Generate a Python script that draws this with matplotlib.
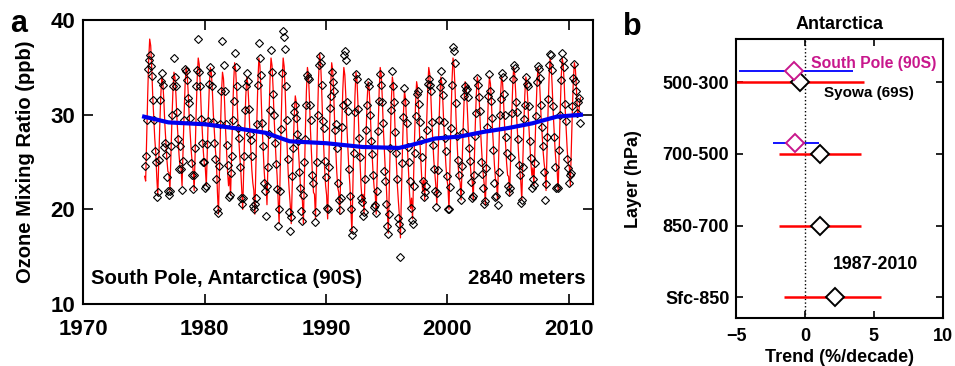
import numpy as np
import matplotlib
matplotlib.use('Agg')
import matplotlib.pyplot as plt

plt.rcParams['font.family'] = ['Liberation Sans', 'DejaVu Sans']
plt.rcParams['font.weight'] = 'bold'

# ---- panel a: South Pole monthly surface ozone (ppb), Jan..Dec per year ----
years = list(range(1975, 2011))

# seasonal fit (red line)
fit_monthly = [
    [23.5, 23.0, 27.5, 32.0, 35.8, 38.0, 37.3, 35.0, 32.0, 29.8, 27.5, 26.0],
    [23.4, 21.5, 25.3, 29.0, 32.1, 34.0, 33.4, 31.5, 29.0, 27.1, 25.3, 24.0],
    [23.9, 22.0, 25.8, 29.5, 32.6, 34.5, 33.9, 32.0, 29.5, 27.6, 25.8, 24.5],
    [24.4, 22.5, 26.3, 30.0, 33.1, 35.0, 34.4, 32.5, 30.0, 28.1, 26.3, 25.0],
    [24.1, 22.0, 26.2, 30.4, 33.9, 36.0, 35.3, 33.2, 30.4, 28.3, 26.2, 24.8],
    [24.4, 22.5, 26.3, 30.0, 33.1, 35.0, 34.4, 32.5, 30.0, 28.1, 26.3, 25.0],
    [21.8, 19.5, 24.0, 28.5, 32.3, 34.5, 33.8, 31.5, 28.5, 26.3, 24.0, 22.5],
    [23.6, 21.5, 25.7, 29.9, 33.4, 35.5, 34.8, 32.7, 29.9, 27.8, 25.7, 24.3],
    [22.1, 20.0, 24.2, 28.4, 31.9, 34.0, 33.3, 31.2, 28.4, 26.3, 24.2, 22.8],
    [22.0, 19.5, 24.5, 29.4, 33.5, 36.0, 35.2, 32.7, 29.4, 26.9, 24.5, 22.8],
    [22.8, 20.5, 25.2, 29.8, 33.7, 36.0, 35.2, 32.9, 29.8, 27.5, 25.2, 23.6],
    [21.1, 18.5, 23.8, 29.0, 33.4, 36.0, 35.1, 32.5, 29.0, 26.4, 23.8, 22.0],
    [20.5, 18.5, 22.6, 26.6, 30.0, 32.0, 31.3, 29.3, 26.6, 24.6, 22.6, 21.2],
    [21.0, 18.5, 23.5, 28.4, 32.5, 35.0, 34.2, 31.7, 28.4, 25.9, 23.5, 21.8],
    [21.6, 19.0, 24.3, 29.5, 33.9, 36.5, 35.6, 33.0, 29.5, 26.9, 24.3, 22.5],
    [21.5, 19.0, 24.0, 28.9, 33.0, 35.5, 34.7, 32.2, 28.9, 26.4, 24.0, 22.3],
    [21.8, 19.5, 24.2, 28.8, 32.7, 35.0, 34.2, 31.9, 28.8, 26.5, 24.2, 22.6],
    [20.1, 17.5, 22.6, 27.7, 32.0, 34.5, 33.7, 31.1, 27.7, 25.2, 22.6, 20.9],
    [21.6, 19.5, 23.7, 27.9, 31.4, 33.5, 32.8, 30.7, 27.9, 25.8, 23.7, 22.3],
    [21.8, 19.5, 24.2, 28.8, 32.7, 35.0, 34.2, 31.9, 28.8, 26.5, 24.2, 22.6],
    [20.0, 17.5, 22.5, 27.4, 31.5, 34.0, 33.2, 30.7, 27.4, 24.9, 22.5, 20.8],
    [19.3, 17.0, 21.7, 26.3, 30.2, 32.5, 31.7, 29.4, 26.3, 24.0, 21.7, 20.1],
    [21.2, 19.0, 23.4, 27.7, 31.3, 33.5, 32.8, 30.6, 27.7, 25.5, 23.4, 21.9],
    [23.1, 21.0, 25.2, 29.4, 32.9, 35.0, 34.3, 32.2, 29.4, 27.3, 25.2, 23.8],
    [22.5, 20.5, 24.6, 28.6, 32.0, 34.0, 33.3, 31.3, 28.6, 26.6, 24.6, 23.2],
    [22.4, 20.0, 24.8, 29.6, 33.6, 36.0, 35.2, 32.8, 29.6, 27.2, 24.8, 23.2],
    [22.9, 21.0, 24.8, 28.5, 31.6, 33.5, 32.9, 31.0, 28.5, 26.6, 24.8, 23.5],
    [23.0, 21.0, 24.9, 28.8, 32.1, 34.0, 33.4, 31.4, 28.8, 26.9, 24.9, 23.6],
    [22.5, 20.5, 24.6, 28.6, 32.0, 34.0, 33.3, 31.3, 28.6, 26.6, 24.6, 23.2],
    [23.0, 21.0, 24.9, 28.8, 32.1, 34.0, 33.4, 31.4, 28.8, 26.9, 24.9, 23.6],
    [23.5, 21.5, 25.6, 29.6, 33.0, 35.0, 34.3, 32.3, 29.6, 27.6, 25.6, 24.2],
    [23.0, 21.0, 24.9, 28.8, 32.1, 34.0, 33.4, 31.4, 28.8, 26.9, 24.9, 23.6],
    [24.4, 22.5, 26.3, 30.0, 33.1, 35.0, 34.4, 32.5, 30.0, 28.1, 26.3, 25.0],
    [24.1, 22.0, 26.2, 30.4, 33.9, 36.0, 35.3, 33.2, 30.4, 28.3, 26.2, 24.8],
    [24.1, 22.0, 26.2, 30.4, 33.9, 36.0, 35.3, 33.2, 30.4, 28.3, 26.2, 24.8],
    [24.5, 22.5, 26.4, 30.3, 33.6, 35.5, 34.9, 32.9, 30.3, 29.8, 31.0, 31.8],
]

# monthly means (diamonds)
obs_monthly = [
    [24.6, 25.7, 29.4, 34.8, 35.8, 36.3, 35.2, 34.1, 31.6, 29.4, 26.2, 25.0],
    [21.3, 21.8, 25.2, 31.6, 33.6, 34.4, 33.1, 26.6, 27.0, 25.8, 23.4, 22.0],
    [21.5, 22.0, 26.7, 30.0, 33.0, 36.0, 34.0, 33.0, 30.3, 27.4, 24.3, 26.7],
    [24.3, 22.1, 25.1, 29.5, 34.8, 34.6, 33.7, 31.8, 31.2, 29.7, 24.9, 23.6],
    [22.2, 23.6, 26.5, 33.0, 34.7, 38.0, 34.5, 33.0, 29.6, 27.0, 25.0, 25.0],
    [22.3, 22.5, 26.9, 29.3, 33.3, 35.0, 34.4, 33.0, 29.2, 27.0, 25.3, 23.2],
    [20.1, 19.6, 24.6, 29.0, 32.5, 37.8, 35.3, 32.5, 29.0, 26.8, 24.7, 21.3],
    [21.5, 23.9, 25.7, 29.5, 31.5, 36.5, 35.0, 33.0, 28.6, 27.5, 24.5, 21.2],
    [20.6, 21.2, 25.6, 30.5, 33.0, 34.4, 33.6, 30.6, 28.0, 27.3, 25.6, 20.4],
    [20.1, 20.6, 21.2, 29.0, 33.2, 37.6, 36.0, 34.2, 29.1, 26.7, 22.8, 21.9],
    [19.3, 22.5, 24.5, 28.0, 30.5, 36.8, 34.5, 32.2, 30.0, 27.0, 24.8, 22.2],
    [18.3, 20.0, 22.0, 28.5, 34.4, 38.8, 38.2, 37.0, 33.0, 29.4, 25.3, 19.7],
    [17.7, 19.2, 23.5, 26.5, 30.3, 31.0, 29.7, 28.0, 27.2, 24.0, 22.3, 19.8],
    [18.8, 21.5, 25.0, 27.4, 31.0, 34.2, 33.9, 33.8, 31.0, 29.5, 23.6, 22.8],
    [18.7, 19.7, 25.0, 30.0, 35.3, 36.2, 35.5, 33.2, 29.3, 28.6, 25.1, 23.4],
    [20.2, 20.0, 24.5, 30.7, 32.0, 34.5, 33.5, 32.5, 28.4, 29.0, 26.5, 22.8],
    [21.0, 19.9, 21.2, 28.7, 31.0, 36.3, 36.7, 35.8, 31.3, 30.4, 24.3, 21.4],
    [20.0, 17.3, 17.8, 26.0, 30.3, 34.3, 33.8, 30.6, 27.5, 25.5, 21.2, 20.8],
    [19.3, 19.7, 23.2, 28.4, 31.0, 33.5, 33.0, 30.0, 27.2, 25.9, 23.6, 20.3],
    [20.5, 19.6, 22.0, 28.3, 31.5, 34.3, 33.2, 31.3, 29.1, 24.1, 23.0, 20.6],
    [18.3, 17.4, 19.5, 26.5, 30.5, 34.6, 33.0, 31.4, 28.2, 26.0, 23.2, 19.1],
    [18.5, 15.0, 17.8, 24.9, 29.8, 32.8, 31.3, 29.1, 26.6, 25.0, 23.0, 20.2],
    [18.9, 18.5, 22.5, 26.0, 29.9, 32.2, 32.5, 31.1, 29.2, 27.3, 25.5, 23.0],
    [21.3, 21.8, 22.5, 28.4, 33.3, 33.8, 33.2, 32.5, 29.2, 26.8, 24.3, 21.9],
    [20.3, 21.7, 24.2, 29.4, 32.9, 34.6, 33.6, 32.1, 29.2, 27.6, 26.2, 23.5],
    [20.0, 20.0, 22.4, 28.6, 33.2, 37.2, 36.7, 35.5, 31.2, 27.8, 25.2, 23.6],
    [21.8, 21.0, 24.6, 28.2, 32.0, 33.0, 32.6, 32.7, 31.9, 26.5, 25.1, 22.9],
    [21.2, 21.4, 23.6, 27.8, 30.2, 33.9, 33.1, 31.9, 30.4, 25.0, 23.7, 22.3],
    [20.6, 20.9, 24.4, 28.7, 32.0, 34.3, 32.5, 31.5, 29.7, 26.3, 22.8, 21.3],
    [21.4, 20.5, 24.0, 30.0, 31.7, 34.4, 34.0, 32.2, 30.0, 27.7, 26.0, 22.5],
    [21.8, 22.3, 25.5, 30.2, 33.8, 35.3, 34.9, 31.4, 30.3, 27.4, 24.7, 23.6],
    [20.7, 21.0, 24.5, 29.6, 31.0, 34.0, 33.3, 33.0, 30.9, 27.2, 25.4, 22.3],
    [23.2, 22.6, 24.9, 29.9, 33.5, 35.2, 34.8, 33.9, 31.0, 28.7, 26.7, 24.0],
    [21.0, 22.7, 27.7, 31.7, 35.3, 36.4, 36.3, 34.7, 30.9, 27.7, 24.5, 22.3],
    [22.4, 22.3, 26.3, 30.0, 33.7, 36.5, 35.8, 35.0, 31.1, 29.3, 25.3, 24.4],
    [22.8, 23.6, 23.8, 30.9, 33.9, 35.4, 33.6, 32.5, 30.2, 31.3, 31.8, 29.1],
]

# long-term smooth trend (blue line)
trend_years = [1975, 1977, 1980, 1983, 1985, 1987, 1990, 1993, 1996, 1997, 1999, 2001, 2003, 2005, 2007, 2009, 2011]
trend_vals = [29.8, 29.2, 29.0, 28.5, 28.1, 27.2, 27.0, 26.6, 26.5, 26.8, 27.5, 27.7, 28.2, 28.6, 29.1, 29.8, 30.0]

# ---- panel b: trends (%/decade) by layer ----
layers = ['500-300', '700-500', '850-700', 'Sfc-850']
syowa_trend = [-0.4, 1.1, 1.1, 2.2]
syowa_lo = [-5.3, -1.9, -1.9, -1.5]
syowa_hi = [4.3, 4.1, 4.1, 5.5]
sp_layers = ['500-300', '700-500']
sp_trend = [-0.8, -0.7]
sp_lo = [-4.8, -2.3]
sp_hi = [3.5, 1.0]

MAGENTA = '#c8178c'

fig = plt.figure(figsize=(9.55, 3.66), dpi=100)

# ------------------------- panel a -------------------------
ax = fig.add_axes([0.0874, 0.169, 0.5336, 0.776])
t = np.array([[y + (m + 0.5) / 12 for m in range(12)] for y in years]).ravel()
fit = np.array(fit_monthly).ravel()
obs = np.array(obs_monthly).ravel()

ax.plot(t, fit, color='red', lw=0.9, zorder=2)
ax.plot(t, obs, ls='none', marker='D', ms=4.2, mfc='none', mec='black', mew=0.8, zorder=3)
ax.plot(trend_years, trend_vals, color='#0000ee', lw=3, zorder=4)

ax.set_xlim(1970, 2012)
ax.set_ylim(10, 40)
ax.set_xticks([1970, 1980, 1990, 2000, 2010])
ax.set_yticks([10, 20, 30, 40])
ax.tick_params(direction='in', length=7, width=1.2, top=True, right=True, labelsize=16)
ax.tick_params(axis='x', pad=11)
ax.tick_params(axis='y', pad=6)
for s in ax.spines.values():
    s.set_linewidth(1.5)
ax.set_ylabel('Ozone Mixing Ratio (ppb)', fontsize=14.5, fontweight='bold', labelpad=11)
ax.text(0.015, 0.09, 'South Pole, Antarctica (90S)', transform=ax.transAxes, fontsize=14.7,
        fontweight='bold', va='center', ha='left')
ax.text(0.985, 0.09, '2840 meters', transform=ax.transAxes, fontsize=14.7,
        fontweight='bold', va='center', ha='right')
fig.text(0.019, 0.935, 'a', fontsize=22, fontweight='bold', ha='center', va='center')

# ------------------------- panel b -------------------------
bx = fig.add_axes([0.771, 0.131, 0.216, 0.762])
ypos = {name: 4 - i for i, name in enumerate(layers)}
y_sy = np.array([ypos[n] for n in layers], dtype=float)
y_sp = np.array([ypos[n] for n in sp_layers], dtype=float) + 0.15

bx.axvline(0, color='black', ls=':', lw=1, zorder=1)
bx.hlines(y_sy, syowa_lo, syowa_hi, color='red', lw=1.8, zorder=2)
bx.hlines(y_sp, sp_lo, sp_hi, color='blue', lw=1.3, zorder=2)
bx.plot(syowa_trend, y_sy, ls='none', marker='D', ms=9.5, mfc='white', mec='black', mew=1.4, zorder=3)
bx.plot(sp_trend, y_sp, ls='none', marker='D', ms=9.5, mfc='white', mec=MAGENTA, mew=1.4, zorder=3)

bx.set_xlim(-5, 10)
bx.set_ylim(0.71, 4.6)
bx.set_xticks([-5, 0, 5, 10])
bx.set_yticks(y_sy)
bx.set_yticklabels(layers)
bx.tick_params(direction='in', length=5, width=1.2, top=True, right=True, labelsize=13, pad=5)
bx.tick_params(axis='x', pad=7)
for s in bx.spines.values():
    s.set_linewidth(1.5)
bx.set_xlabel('Trend (%/decade)', fontsize=13, fontweight='bold', labelpad=3)
bx.set_ylabel('Layer (hPa)', fontsize=13, fontweight='bold', labelpad=15)
bx.set_title('Antarctica', fontsize=13, fontweight='bold', pad=7)
bx.text(0.4, 4.26, 'South Pole (90S)', color=MAGENTA, fontsize=11.3, fontweight='bold', va='center')
bx.text(1.4, 3.85, 'Syowa (69S)', color='black', fontsize=11, fontweight='bold', va='center')
bx.text(2.0, 1.45, '1987-2010', color='black', fontsize=12.8, fontweight='bold', va='center')
fig.text(0.662, 0.925, 'b', fontsize=22, fontweight='bold', ha='center', va='center')

fig.savefig('out.png', dpi=100)
